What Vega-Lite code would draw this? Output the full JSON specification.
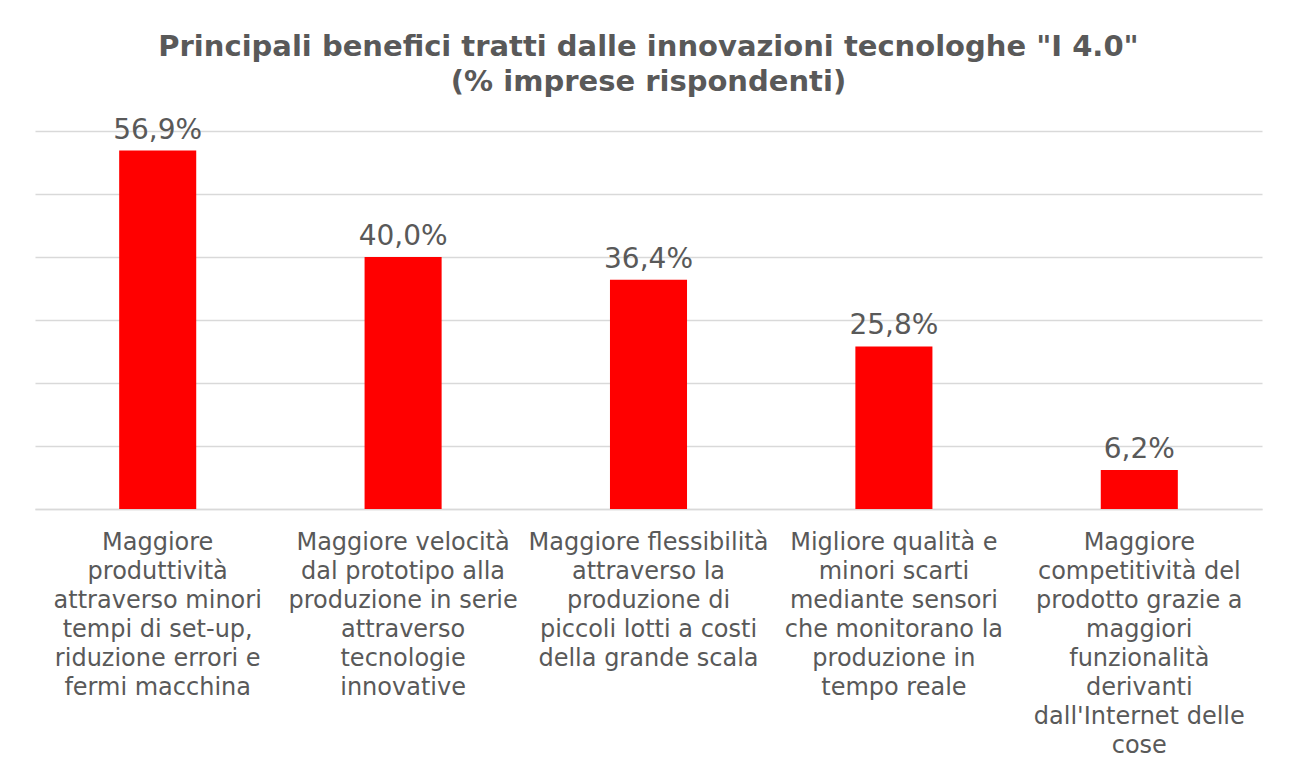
{
  "$schema": "https://vega.github.io/schema/vega-lite/v6.json",
  "width": 1227,
  "height": 378,
  "autosize": {"type": "none"},
  "padding": {"left": 35, "top": 131, "right": 27, "bottom": 260},
  "background": "white",
  "config": {
    "view": {"stroke": null},
    "locale": {"number": {"decimal": ",", "thousands": ".", "grouping": [3], "currency": ["€", ""]}},
    "font": "DejaVu Sans"
  },
  "title": {
    "text": ["Principali benefici tratti dalle innovazioni tecnologhe \"I 4.0\"", "(% imprese rispondenti)"],
    "anchor": "middle",
    "frame": "group",
    "font": "DejaVu Sans",
    "fontSize": 29,
    "fontWeight": "bold",
    "color": "#595959",
    "lineHeight": 35,
    "offset": 20
  },
  "data": {
    "values": [
      {"beneficio": "Maggiore\nproduttività\nattraverso minori\ntempi di set-up,\nriduzione errori e\nfermi macchina", "quota": 0.569},
      {"beneficio": "Maggiore velocità\ndal prototipo alla\nproduzione in serie\nattraverso\ntecnologie\ninnovative", "quota": 0.400},
      {"beneficio": "Maggiore flessibilità\nattraverso la\nproduzione di\npiccoli lotti a costi\ndella grande scala", "quota": 0.364},
      {"beneficio": "Migliore qualità e\nminori scarti\nmediante sensori\nche monitorano la\nproduzione in\ntempo reale", "quota": 0.258},
      {"beneficio": "Maggiore\ncompetitività del\nprodotto grazie a\nmaggiori\nfunzionalità\nderivanti\ndall'Internet delle\ncose", "quota": 0.062}
    ]
  },
  "encoding": {
    "x": {
      "field": "beneficio",
      "type": "nominal",
      "sort": null,
      "scale": {"paddingInner": 0.686, "paddingOuter": 0.343},
      "axis": {
        "title": null,
        "labelAngle": 0,
        "labelExpr": "split(datum.label, '\\n')",
        "labelFont": "DejaVu Sans",
        "labelFontSize": 24,
        "labelColor": "#595959",
        "labelLineHeight": 29,
        "labelLimit": 400,
        "labelPadding": 21,
        "labelBaseline": "top",
        "ticks": false,
        "domainColor": "#d9d9d9",
        "domainWidth": 1.5
      }
    },
    "y": {
      "field": "quota",
      "type": "quantitative",
      "scale": {"domain": [0, 0.6], "nice": false},
      "axis": {
        "title": null,
        "labels": false,
        "ticks": false,
        "domain": false,
        "values": [0, 0.1, 0.2, 0.3, 0.4, 0.5, 0.6],
        "gridColor": "#d9d9d9",
        "gridWidth": 1.5
      }
    }
  },
  "layer": [
    {"mark": {"type": "bar", "color": "#ff0000"}},
    {
      "mark": {"type": "text", "baseline": "alphabetic", "dy": -12, "fontSize": 28, "color": "#595959", "font": "DejaVu Sans"},
      "encoding": {"text": {"field": "quota", "type": "quantitative", "format": ".1%"}}
    }
  ]
}
